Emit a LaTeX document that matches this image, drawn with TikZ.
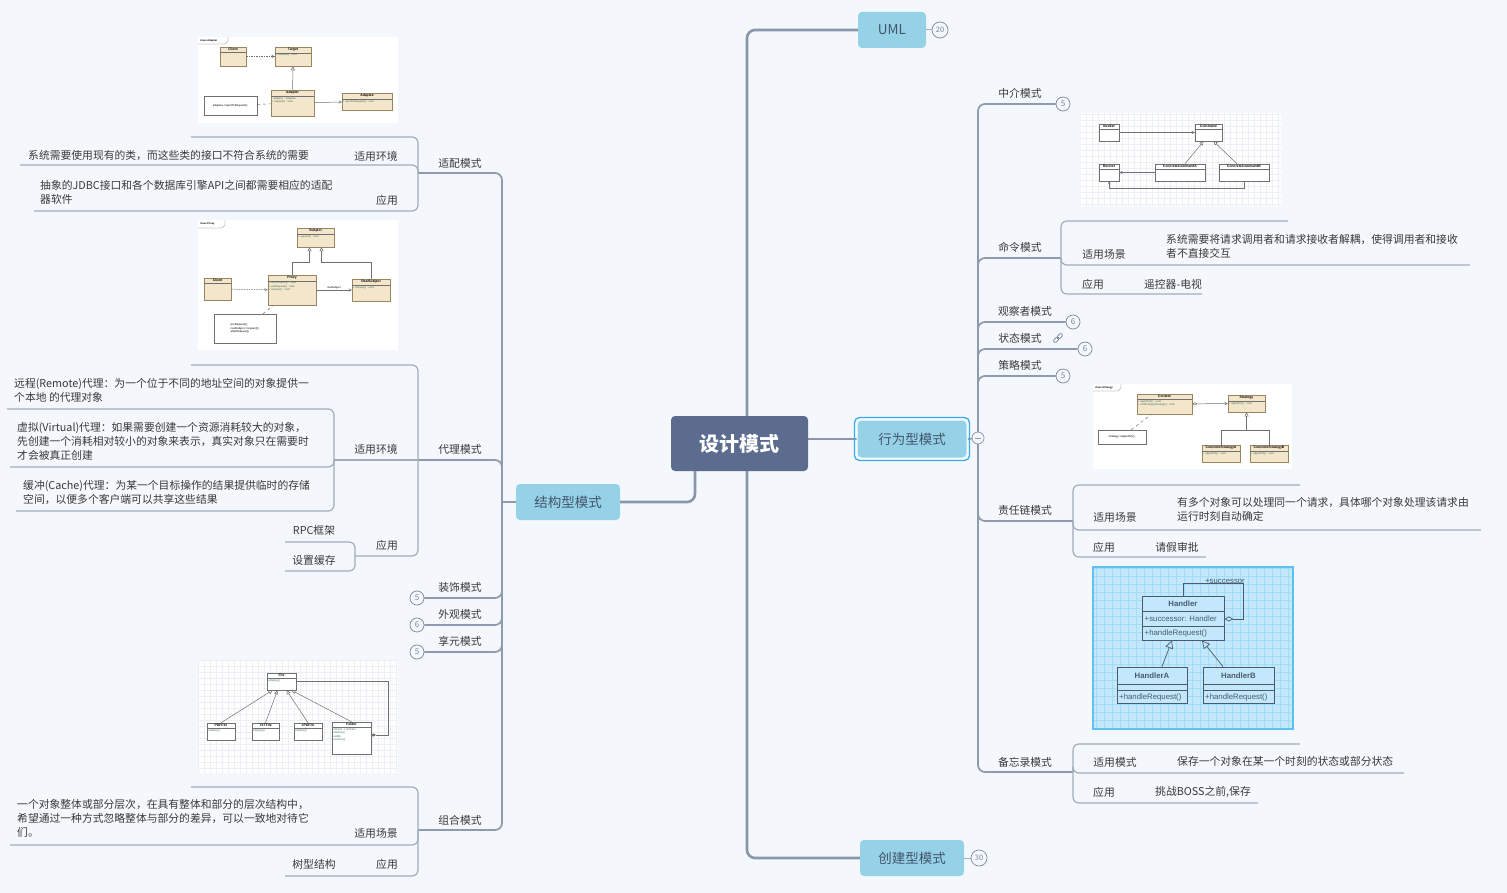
\documentclass[tikz,border=0pt]{standalone}
\usepackage{fontspec}
\setmainfont{Noto Sans CJK SC}
\newfontfamily\umlfont{Liberation Sans}
\usetikzlibrary{arrows.meta}

\definecolor{bgc}{HTML}{F4F8FC}
\definecolor{rootc}{HTML}{5B6C8F}
\definecolor{mainc}{HTML}{95D2E8}
\definecolor{maintxt}{HTML}{44546A}
\definecolor{selc}{HTML}{3AACEB}
\definecolor{rootl}{HTML}{8A96AA}
\definecolor{trunkc}{HTML}{8E9AAE}
\definecolor{twigc}{HTML}{A2ACBB}
\definecolor{txtc}{HTML}{383838}
\definecolor{badgec}{HTML}{7C889C}
\definecolor{tanc}{HTML}{F3E6CB}
\definecolor{tanl}{HTML}{9A8563}
\definecolor{umll}{HTML}{707070}
\definecolor{umltxt}{HTML}{3C6E5A}
\definecolor{gridc}{HTML}{ECEFF3}
\definecolor{chainc}{HTML}{C3E8FB}
\definecolor{chainl}{HTML}{5DC1F1}
\definecolor{chaind}{HTML}{4A5A70}

\pgfdeclarelayer{back}
\pgfsetlayers{back,main}

\tikzset{
  rootbox/.style={fill=rootc, rounded corners=4pt, text=white, inner sep=0pt,
    font=\fontsize{20}{24}\selectfont\bfseries, minimum width=137pt, minimum height=55pt},
  mainbox/.style={fill=mainc, rounded corners=4pt, text=maintxt, inner sep=0pt,
    font=\fontsize{13.5}{16}\selectfont, minimum height=36pt},
  topic/.style={text=txtc, font=\fontsize{10.8}{14}\selectfont, inner sep=0pt},
  leaf/.style={topic, align=left, anchor=north west},
  badge/.style={circle, draw=badgec, fill=bgc, line width=0.7pt, minimum size=14pt,
    inner sep=0pt, text=badgec, font=\fontsize{8}{8}\selectfont},
  rootline/.style={draw=rootl, line width=2.6pt, rounded corners=8pt},
  trunk/.style={draw=trunkc, line width=1.7pt, rounded corners=7pt},
  twig/.style={draw=twigc, line width=1.2pt, rounded corners=6pt},
  umlbox/.style={draw=umll, fill=white, line width=0.5pt, inner sep=0pt},
  umltitle/.style={font=\umlfont\bfseries\fontsize{3.4}{4}\selectfont, inner sep=1.3pt},
  umlmem/.style={font=\umlfont\fontsize{2.7}{3.3}\selectfont, inner sep=1pt, align=left,
    anchor=north west, text=umltxt},
  umlsep/.style={draw=umll, line width=0.4pt},
  umlarrow/.style={draw=umll, line width=0.5pt},
  gen/.style={umlarrow, -{Triangle[open, length=4pt, width=4pt]}},
  assoc/.style={umlarrow, -{Straight Barb[length=2.5pt, width=2.5pt]}},
  dep/.style={assoc, dash pattern=on 1.5pt off 1pt},
  notebox/.style={draw=umll, fill=white, line width=0.4pt, inner sep=1.5pt, align=left,
    font=\umlfont\fontsize{2.8}{3.6}\selectfont},
  hbox/.style={draw=chaind, fill=chainc, line width=0.8pt, inner sep=0pt},
  htitle/.style={font=\umlfont\bfseries\fontsize{7.8}{9}\selectfont, text=chaind, inner sep=0pt},
  hmem/.style={font=\umlfont\fontsize{7.8}{9}\selectfont, text=chaind, inner sep=0pt},
}

\newcommand{\topic}[4]{\node[topic] (#1) at (#2,#3) {#4};}
\newcommand{\leaf}[4]{\node[leaf] (#1) at (#2,#3) {#4};}
\newcommand{\badge}[4]{\node[badge] (#1) at (#2,#3) {#4};}
\newcommand{\umlcls}[7]{%
  \node[umlbox, minimum width=#4pt, minimum height=#5pt] (#1) at (#2,#3) {};
  \node[umltitle, anchor=north] (#1-t) at (#1.north) {#6};
  \draw[umlsep] (#1.west |- #1-t.south) -- (#1.east |- #1-t.south);
  \node[umlmem] (#1-m) at (#1.west |- #1-t.south) {#7};}

\begin{document}
\begin{tikzpicture}[x=1pt, y=-1pt]
  \useasboundingbox (0,0) rectangle (1507,893);
  \begin{pgfonlayer}{back}
    \fill[bgc] (0,0) rectangle (1507,893);
  \end{pgfonlayer}

  % root and main topics
  \node[rootbox] (root) at (739.5,443.5) {设计模式};
  \node[mainbox, minimum width=68pt] (uml) at (892,30) {UML};
  \node[mainbox, minimum width=110pt, minimum height=38pt, draw=white, line width=1pt] (act) at (912,439) {行为型模式};
  \draw[selc, line width=1.3pt, rounded corners=5pt] ([shift={(-2pt,-2pt)}]act.south west) rectangle ([shift={(2pt,2pt)}]act.north east);
  \node[mainbox, minimum width=104pt] (jg) at (568,502) {结构型模式};
  \node[mainbox, minimum width=104pt] (crt) at (912,858) {创建型模式};
  \node[badge, minimum size=16pt, font=\fontsize{7.5}{8}\selectfont] (umlN) at (940,30) {20};
  \node[badge, minimum size=16pt, font=\fontsize{7.5}{8}\selectfont] (crtN) at (979,858) {30};
  \node[circle, draw=trunkc, fill=bgc, minimum size=12pt, inner sep=0pt, line width=0.8pt] (actC) at (978,438) {};
  \draw[trunkc, line width=0.8pt] ([xshift=-3pt]actC.center) -- ([xshift=3pt]actC.center);

  % structural: adapter
  \topic{ada}{460}{163}{适配模式}
  \topic{ada1}{376}{156}{适用环境}
  \leaf{ada1a}{28}{150.5}{系统需要使用现有的类，而这些类的接口不符合系统的需要}
  \topic{ada2}{387}{200}{应用}
  \leaf{ada2a}{40}{180.5}{抽象的JDBC接口和各个数据库引擎API之间都需要相应的适配\\器软件}
  % structural: proxy
  \topic{prx}{460}{449}{代理模式}
  \topic{prx1}{376}{449}{适用环境}
  \leaf{prx1a}{14}{378.5}{远程(Remote)代理：为一个位于不同的地址空间的对象提供一\\个本地 的代理对象}
  \leaf{prx1b}{17}{422.5}{虚拟(Virtual)代理：如果需要创建一个资源消耗较大的对象，\\先创建一个消耗相对较小的对象来表示，真实对象只在需要时\\才会被真正创建}
  \leaf{prx1c}{23}{480.5}{缓冲(Cache)代理：为某一个目标操作的结果提供临时的存储\\空间，以便多个客户端可以共享这些结果}
  \topic{prx2}{387}{545}{应用}
  \topic{prx2a}{314}{530}{RPC框架}
  \topic{prx2b}{314}{560}{设置缓存}
  % structural: folded ones
  \topic{dec}{460}{587}{装饰模式}
  \badge{decN}{417}{598}{5}
  \topic{fac}{460}{614}{外观模式}
  \badge{facN}{417}{625}{6}
  \topic{fly}{460}{641}{享元模式}
  \badge{flyN}{417}{652}{5}
  % structural: composite
  \topic{cmp}{460}{820}{组合模式}
  \topic{cmp1}{376}{833}{适用场景}
  \leaf{cmp1a}{17}{799.5}{一个对象整体或部分层次，在具有整体和部分的层次结构中，\\希望通过一种方式忽略整体与部分的差异，可以一致地对待它\\们。}
  \topic{cmp2}{387}{864}{应用}
  \topic{cmp2a}{314}{864}{树型结构}

  % behavioural
  \topic{med}{1020}{93}{中介模式}
  \badge{medN}{1063}{104}{5}
  \topic{cmd}{1020}{247}{命令模式}
  \topic{cmd1}{1104}{254}{适用场景}
  \leaf{cmd1a}{1166}{234.5}{系统需要将请求调用者和请求接收者解耦，使得调用者和接收\\者不直接交互}
  \topic{cmd2}{1093}{284}{应用}
  \topic{cmd2a}{1173}{284}{遥控器-电视}
  \topic{obs}{1025}{311}{观察者模式}
  \badge{obsN}{1073}{322}{6}
  \topic{sta}{1020}{338}{状态模式}
  \badge{staN}{1085}{349}{6}
  \node[draw=badgec, rounded corners=1.6pt, minimum width=6.5pt, minimum height=3.4pt, inner sep=0pt, line width=0.7pt, rotate=45] (staL1) at (1056.2,339.8) {};
  \node[draw=badgec, rounded corners=1.6pt, minimum width=6.5pt, minimum height=3.4pt, inner sep=0pt, line width=0.7pt, rotate=45] (staL2) at (1059.8,336.2) {};
  \topic{stg}{1020}{365}{策略模式}
  \badge{stgN}{1063}{376}{5}
  \topic{chn}{1025}{510}{责任链模式}
  \topic{chn1}{1115}{517}{适用场景}
  \leaf{chn1a}{1177}{497.5}{有多个对象可以处理同一个请求，具体哪个对象处理该请求由\\运行时刻自动确定}
  \topic{chn2}{1104}{547}{应用}
  \topic{chn2a}{1177}{547}{请假审批}
  \topic{mem}{1025}{762}{备忘录模式}
  \topic{mem1}{1115}{762}{适用模式}
  \leaf{mem1a}{1177}{756.5}{保存一个对象在某一个时刻的状态或部分状态}
  \topic{mem2}{1104}{792}{应用}
  \leaf{mem2a}{1155}{786.5}{挑战BOSS之前,保存}

  % junctions
  \coordinate (rootJ) at (747,443);
  \coordinate (rootL) at (695,443);
  \coordinate (jgJ) at (502,502);
  \coordinate (actJ) at (978,438);
  \coordinate (adaL) at (418,173);
  \coordinate (prxL) at (418,460);
  \coordinate (prx1J) at (334,460);
  \coordinate (prx2J) at (355,556);
  \coordinate (cmpL) at (418,830);
  \coordinate (medR) at (1056,104);
  \coordinate (cmdR) at (1061,258);
  \coordinate (chnR) at (1073,521);
  \coordinate (memR) at (1073,772);

  \begin{pgfonlayer}{back}
    % root
    \draw[rootline] (rootJ) |- (uml.west);
    \draw[rootline] (rootJ) |- (crt.west);
    \draw[rootline] (rootL) |- (jg.east);
    \draw[rootline] (root.east |- act.west) -- (act.west);
    \draw[twigc, line width=1pt] (uml.east) -- (umlN.west);
    \draw[twigc, line width=1pt] (crt.east) -- (crtN.west);
    % left trunk
    \draw[trunk] (jg.west) -- (jgJ);
    \draw[trunk] (jgJ) |- (adaL);
    \draw[trunk] (jgJ) |- (prxL);
    \draw[trunk] (jgJ) |- (decN.east);
    \draw[trunk] (jgJ) |- (facN.east);
    \draw[trunk] (jgJ) |- (flyN.east);
    \draw[trunk] (jgJ) |- (cmpL);
    % adapter
    \draw[twig] (adaL) |- (191,137);
    \draw[twig] (adaL) |- (20,165);
    \draw[twig] (adaL) |- (34,211);
    % proxy
    \draw[twig] (prxL) |- (191,365);
    \draw[twig] (prxL) -- (prx1J);
    \draw[twig] (prx1J) |- (7,409);
    \draw[twig] (prx1J) |- (10,467);
    \draw[twig] (prx1J) |- (16,511);
    \draw[twig] (prxL) |- (prx2J);
    \draw[twig] (prx2J) |- (285,542);
    \draw[twig] (prx2J) |- (285,571);
    % composite
    \draw[twig] (cmpL) |- (191,787);
    \draw[twig] (cmpL) |- (10,845);
    \draw[twig] (cmpL) |- (285,876);
    % right trunk
    \draw[trunk] (act.east) -- (actJ);
    \draw[trunk] (actJ) |- (medN.west);
    \draw[trunk] (actJ) |- (cmdR);
    \draw[trunk] (actJ) |- (obsN.west);
    \draw[trunk] (actJ) |- (staN.west);
    \draw[trunk] (actJ) |- (stgN.west);
    \draw[trunk] (actJ) |- (chnR);
    \draw[trunk] (actJ) |- (memR);
    % command
    \draw[twig] (cmdR) |- (1288,221);
    \draw[twig] (cmdR) |- (1470,265);
    \draw[twig] (cmdR) |- (1202,294);
    % chain
    \draw[twig] (chnR) |- (1300,485);
    \draw[twig] (chnR) |- (1481,530);
    \draw[twig] (chnR) |- (1206,557);
    % memento
    \draw[twig] (memR) |- (1300,744);
    \draw[twig] (memR) |- (1404,773);
    \draw[twig] (memR) |- (1258,803);
  \end{pgfonlayer}

  % picture: adapter
  \fill[white] (198,37) rectangle (398,123);
  \node[umlmem, text=black, font=\umlfont\bfseries\fontsize{2.6}{3}\selectfont] (aLbl) at (199,38) {class Adapter};
  \draw[umll, line width=0.3pt] (198,44) -- (225,44) -- (228,41) -- (228,37);
  \begin{scope}[umlbox/.append style={fill=tanc, draw=tanl}]
    \umlcls{aCli}{233}{56.5}{26}{19}{Client}{}
    \umlcls{aTgt}{293}{56.5}{36}{19}{Target}{+ request() : void}
    \umlcls{aAdp}{292.5}{103}{43}{26}{Adapter}{- adaptee : Adaptee\\+ request() : void}
    \umlcls{aAde}{367}{101.5}{50}{17}{Adaptee}{+ specificRequest() : void}
  \end{scope}
  \node[notebox, minimum width=53pt, minimum height=19pt] (aNote) at (230.5,105.5) {adaptee->specificRequest();};
  \draw[dep] (aCli) -- (aTgt);
  \draw[gen] (aAdp) -- (aTgt);
  \draw[assoc] (aAdp) -- (aAde);
  \draw[umlarrow, dashed] (aNote) -- (aAdp);

  % picture: proxy
  \fill[white] (198,220) rectangle (398,350);
  \node[umlmem, text=black, font=\umlfont\bfseries\fontsize{2.6}{3}\selectfont] (pLbl) at (199,221) {class Proxy};
  \draw[umll, line width=0.3pt] (198,228) -- (222,228) -- (225,225) -- (225,220);
  \begin{scope}[umlbox/.append style={fill=tanc, draw=tanl}]
    \umlcls{pSub}{315.5}{237.5}{37}{19}{Subject}{+ request() : void}
    \umlcls{pPrx}{292}{290}{48}{30}{Proxy}{+ afterRequest() : void\\+ preRequest() : void\\+ request() : void}
    \umlcls{pCli}{217.5}{289}{27}{22}{Client}{}
    \umlcls{pReal}{371}{290}{38}{22}{RealSubject}{+ request() : void}
  \end{scope}
  \node[notebox, minimum width=62pt, minimum height=29pt] (pNote) at (245,328.5) {preRequest();\\realSubject->request();\\afterRequest();};
  \draw[gen] (pPrx.north) -- (292,262) -| ([xshift=-6pt]pSub.south);
  \draw[gen] (pReal.north) -- (371,262) -| ([xshift=6pt]pSub.south);
  \draw[dep] (pCli) -- (pPrx);
  \draw[assoc] (pPrx) -- node[umlmem, anchor=south, text=black] (pRl) {realSubject} (pReal);
  \draw[umlarrow, dashed] (pNote) -- (pPrx);

  % picture: composite
  \fill[white] (198,660) rectangle (398,773);
  \draw[gridc, step=6pt, line width=0.3pt] (198,773) grid (398,660);
  \umlcls{cFile}{281.5}{681.5}{29}{17}{File}{+display()}
  \umlcls{cPdf}{221}{731.5}{28}{17}{PDFFile}{+display()}
  \umlcls{cTxt}{265.5}{731.5}{27}{17}{TXTFile}{+display()}
  \umlcls{cJpg}{308}{731.5}{28}{17}{JPGFile}{+display()}
  \umlcls{cFold}{351.5}{738}{39}{32}{Folder}{+fileList : List<File>\\+display()\\+add()\\+remove()}
  \draw[gen] (cPdf.north) -- ([xshift=-9pt]cFile.south);
  \draw[gen] (cTxt.north) -- ([xshift=-4pt]cFile.south);
  \draw[gen] (cJpg.north) -- ([xshift=5pt]cFile.south);
  \draw[gen] (cFold.north) -- ([xshift=10pt]cFile.south);
  \draw[umlarrow, -{Diamond[length=5pt, width=3pt]}] (cFile.east) -- (388,681.5) -- (388,735) -- (371,735);

  % picture: command
  \fill[white] (1081,113) rectangle (1281,206);
  \draw[gridc, step=6pt, line width=0.3pt] (1081,206) grid (1281,113);
  \umlcls{kInv}{1109}{132.5}{20}{17}{Invoker}{}
  \umlcls{kCmd}{1208.5}{132.5}{27}{17}{Command}{}
  \umlcls{kRec}{1109}{172.5}{20}{17}{Reciver}{}
  \umlcls{kCa}{1180}{172.5}{50}{17}{ConcreteCommandA}{}
  \umlcls{kCb}{1244}{172.5}{50}{17}{ConcreteCommandB}{}
  \draw[assoc] (kInv) -- (kCmd);
  \draw[gen] ([xshift=5pt]kCa.north) -- ([xshift=-5pt]kCmd.south);
  \draw[gen] ([xshift=-7pt]kCb.north) -- ([xshift=5pt]kCmd.south);
  \draw[assoc] (kCa) -- (kRec);
  \draw[assoc] (kCb.south) -- (1244,188) -| (kRec.south);

  % picture: strategy
  \fill[white] (1093,384) rectangle (1292,469);
  \node[umlmem, text=black, font=\umlfont\bfseries\fontsize{2.6}{3}\selectfont] (sLbl) at (1094,385) {class Strategy};
  \draw[umll, line width=0.3pt] (1093,391) -- (1118,391) -- (1121,388) -- (1121,384);
  \begin{scope}[umlbox/.append style={fill=tanc, draw=tanl}]
    \umlcls{sCtx}{1164.5}{404}{55}{20}{Context}{+ algorithm() : void\\+ setStrategy(Strategy*) : void}
    \umlcls{sStg}{1246.5}{403.5}{37}{17}{Strategy}{+ algorithm() : void}
    \umlcls{sCa}{1221}{453.5}{38}{17}{ConcreteStrategyA}{+ algorithm() : void}
    \umlcls{sCb}{1269}{453.5}{38}{17}{ConcreteStrategyB}{+ algorithm() : void}
  \end{scope}
  \node[notebox, minimum width=48pt, minimum height=14pt] (sNote) at (1122,437) {strategy->algorithm();};
  \draw[umlarrow, {Diamond[open, length=5pt, width=3pt]}-{Straight Barb[length=2.5pt, width=2.5pt]}] (sCtx) -- (sStg);
  \draw[gen] (sCa.north) |- (1246.5,430) -- (sStg.south);
  \draw[umlarrow] (sCb.north) |- (1246.5,430);
  \draw[umlarrow, dashed] (sNote) -- (sCtx);

  % picture: chain of responsibility
  \fill[chainc] (1093,567) rectangle (1293,729);
  \draw[chainl!30!chainc, step=8pt, line width=0.3pt] (1093,729) grid (1293,567);
  \draw[chainl, line width=1.6pt] (1093,567) rectangle (1293,729);
  \node[hbox, minimum width=82pt, minimum height=44pt] (hH) at (1183,618) {};
  \node[htitle] (hH-t) at (1183,604) {Handler};
  \draw[chaind, line width=0.6pt] (1142,611) -- (1224,611);
  \draw[chaind, line width=0.6pt] (1142,626) -- (1224,626);
  \node[hmem, anchor=west] (hH-a) at (1144.5,619) {+successor: Handler};
  \node[hmem, anchor=west] (hH-m) at (1144.5,633.5) {+handleRequest()};
  \node[hbox, minimum width=70pt, minimum height=36pt] (hA) at (1152,685) {};
  \node[htitle] (hA-t) at (1152,675.5) {HandlerA};
  \draw[chaind, line width=0.6pt] (1117,684) -- (1187,684);
  \draw[chaind, line width=0.6pt] (1117,690) -- (1187,690);
  \node[hmem, anchor=west] (hA-m) at (1119,697) {+handleRequest()};
  \node[hbox, minimum width=71pt, minimum height=36pt] (hB) at (1238.5,685) {};
  \node[htitle] (hB-t) at (1238.5,675.5) {HandlerB};
  \draw[chaind, line width=0.6pt] (1203,684) -- (1274,684);
  \draw[chaind, line width=0.6pt] (1203,690) -- (1274,690);
  \node[hmem, anchor=west] (hB-m) at (1205,697) {+handleRequest()};
  \draw[chaind, line width=0.7pt, -{Triangle[open, length=8pt, width=8pt]}] ([xshift=10pt]hA.north) -- ([xshift=-11pt]hH.south);
  \draw[chaind, line width=0.7pt, -{Triangle[open, length=8pt, width=8pt]}] ([xshift=-15.5pt]hB.north) -- ([xshift=19pt]hH.south);
  \draw[chaind, line width=0.7pt, {Diamond[open, length=9pt, width=5pt]}-] (hH.east |- hH-a) -- (1243,619) -- (1243,583) -- (1183,583) -- (hH.north);
  \node[hmem, anchor=base] (hSucc) at (1225,583.5) {+successor};
\end{tikzpicture}
\end{document}
